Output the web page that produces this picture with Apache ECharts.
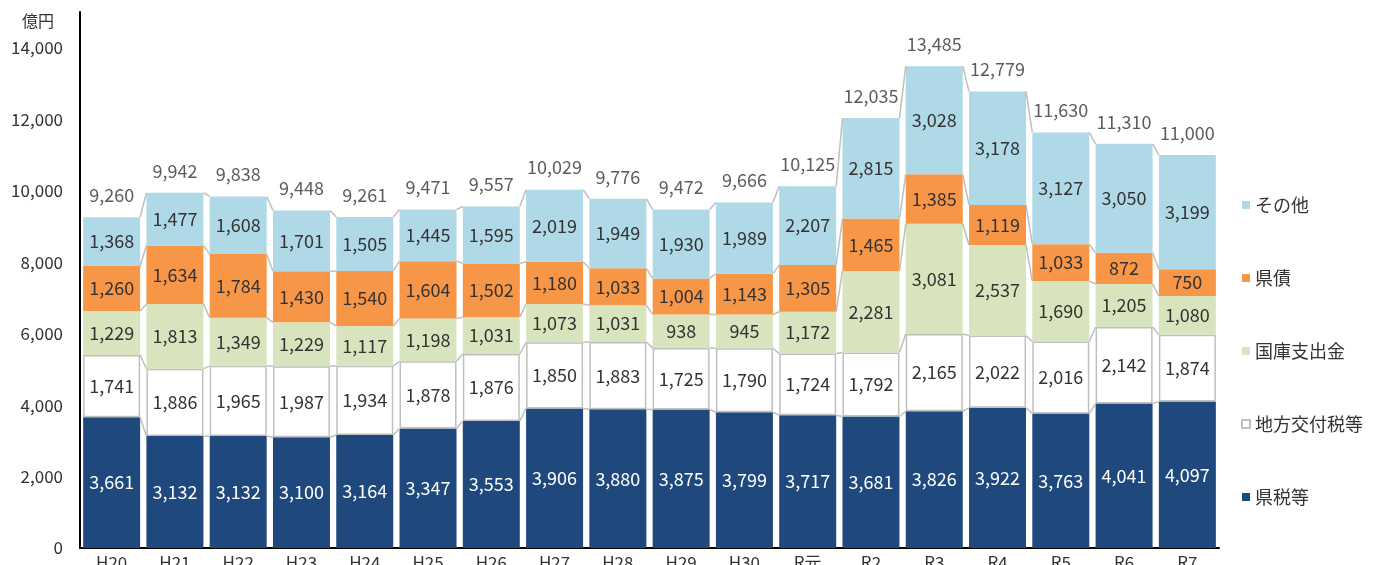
<!DOCTYPE html>
<html><head><meta charset="utf-8">
<script src="https://cdn.jsdelivr.net/npm/echarts@6/dist/echarts.min.js"></script>
<style>html,body{margin:0;padding:0;background:#fff;overflow:hidden}#c{width:1376px;height:565px}</style>
</head><body><div id="c"></div>
<script>
const categories = ['H20','H21','H22','H23','H24','H25','H26','H27','H28','H29','H30','R元','R2','R3','R4','R5','R6','R7'];
const kenzei   = [3661,3132,3132,3100,3164,3347,3553,3906,3880,3875,3799,3717,3681,3826,3922,3763,4041,4097];
const kofuzei  = [1741,1886,1965,1987,1934,1878,1876,1850,1883,1725,1790,1724,1792,2165,2022,2016,2142,1874];
const kokko    = [1229,1813,1349,1229,1117,1198,1031,1073,1031,938,945,1172,2281,3081,2537,1690,1205,1080];
const kensai   = [1260,1634,1784,1430,1540,1604,1502,1180,1033,1004,1143,1305,1465,1385,1119,1033,872,750];
const sonota   = [1368,1477,1608,1701,1505,1445,1595,2019,1949,1930,1989,2207,2815,3028,3178,3127,3050,3199];
const totals   = [9260,9942,9838,9448,9261,9471,9557,10029,9776,9472,9666,10125,12035,13485,12779,11630,11310,11000];
const yTicks   = {min:0, max:15000, interval:2000, lastLabel:14000};
const unitLabel = '億円';

const seriesDefs = [
  {name:'県税等', data:kenzei, color:'#1f497d', text:'#ffffff'},
  {name:'地方交付税等', data:kofuzei, color:'#ffffff', text:'#333333', border:'#bfbfbf'},
  {name:'国庫支出金', data:kokko, color:'#d7e4bd', text:'#333333'},
  {name:'県債', data:kensai, color:'#f79646', text:'#333333'},
  {name:'その他', data:sonota, color:'#b0d9e7', text:'#333333'}
];
const BAR_W = 57;
const FONT = '"Noto Sans CJK JP", "Noto Sans", sans-serif';

const cums = categories.map((c,i)=>{ let s=0; return seriesDefs.map(d=>{ s+=d.data[i]; return s; }); });
const connData = [];
for (let i=0;i<categories.length-1;i++) connData.push([i].concat(cums[i], cums[i+1]));

const fmt = v => Number(v).toLocaleString('en-US');

const series = seriesDefs.map(d=>({
  name:d.name, type:'bar', stack:'a', barWidth:BAR_W, data:d.data,
  itemStyle:{color:d.color, borderColor:d.border||d.color, borderWidth:d.border?1.5:0},
  label:{show:true, position:'inside', color:d.text, fontFamily:FONT, fontSize:18, formatter:p=>fmt(p.value)},
  emphasis:{disabled:true}
}));
series.push({
  type:'custom', name:'conn', data:connData, z:5, silent:true,
  encode:{x:0,y:1},
  renderItem:function(params, api){
    const i = api.value(0); const hw = BAR_W/2; const ch=[];
    for (let k=0;k<5;k++){
      const p1 = api.coord([i, api.value(1+k)]);
      const p2 = api.coord([i+1, api.value(6+k)]);
      ch.push({type:'line', shape:{x1:p1[0]+hw, y1:p1[1], x2:p2[0]-hw, y2:p2[1]}, style:{stroke:'#bfbfbf', lineWidth:1.5}});
    }
    return {type:'group', children:ch};
  }
});
series.push({
  type:'scatter', name:'total', data:totals, symbolSize:0, silent:true,
  label:{show:true, position:'top', distance:13, color:'#333', fontFamily:FONT, fontSize:18, formatter:p=>fmt(p.value)}
});

const chart = echarts.init(document.getElementById('c'));
chart.setOption({
  animation:false,
  textStyle:{fontFamily:FONT},
  grid:{left:80, right:157, top:12, bottom:17, containLabel:false, outerBoundsMode:'none'},
  graphic:[{type:'text', left:22, top:13, style:{text:unitLabel, fontSize:16, fill:'#333', fontFamily:FONT}}],
  legend:{
    data:['その他','県債','国庫支出金','地方交付税等','県税等'],
    orient:'vertical', left:1236, top:191, itemWidth:8, itemHeight:8, itemGap:55,
    icon:'rect', textStyle:{fontSize:18, color:'#333', fontFamily:FONT}
  },
  xAxis:{type:'category', data:categories,
    axisLine:{lineStyle:{color:'#000', width:2}}, axisTick:{show:false},
    axisLabel:{color:'#333', fontSize:17, margin:6, fontFamily:FONT}},
  yAxis:{type:'value', min:yTicks.min, max:yTicks.max, interval:yTicks.interval,
    axisLine:{show:true, lineStyle:{color:'#000', width:2}}, axisTick:{show:false},
    splitLine:{show:false},
    axisLabel:{color:'#333', fontSize:17, margin:17, showMaxLabel:false,
      formatter:v=> v>yTicks.lastLabel ? '' : fmt(v)}},
  series:series
});
</script></body></html>
